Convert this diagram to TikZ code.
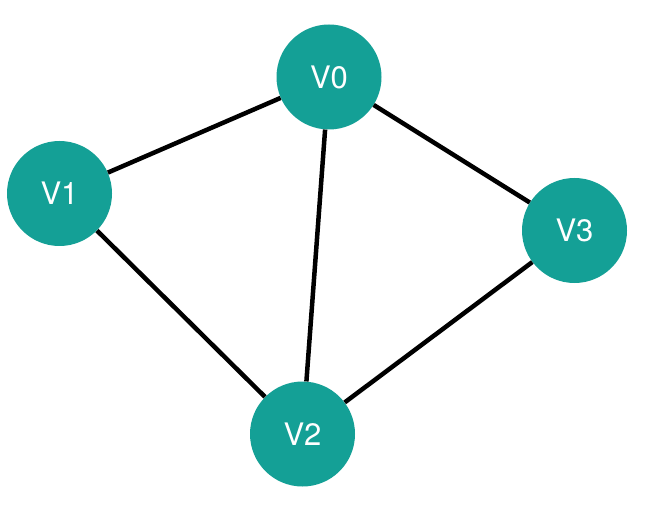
\documentclass[tikz,border=0pt]{standalone}
\usepackage{fontspec}
\setmainfont{TeX Gyre Heros}
\definecolor{teal1}{RGB}{20,160,150}
\begin{document}
\begin{tikzpicture}[x=1pt,y=-1pt,
  vert/.style={circle,fill=teal1,draw=none,minimum size=105pt,inner sep=0pt,text=white,font=\fontsize{31}{32}\selectfont},
  edge/.style={line width=4.5pt,black}]
\useasboundingbox[fill=white] (0,0) rectangle (652,510);
\node[vert] (v0) at (329,77) {V0};
\node[vert] (v1) at (59.5,193.5) {V1};
\node[vert] (v2) at (302.5,434) {V2};
\node[vert] (v3) at (574.5,230.5) {V3};
\draw[edge] (v0) -- (v1);
\draw[edge] (v0) -- (v2);
\draw[edge] (v0) -- (v3);
\draw[edge] (v1) -- (v2);
\draw[edge] (v2) -- (v3);
\end{tikzpicture}
\end{document}
